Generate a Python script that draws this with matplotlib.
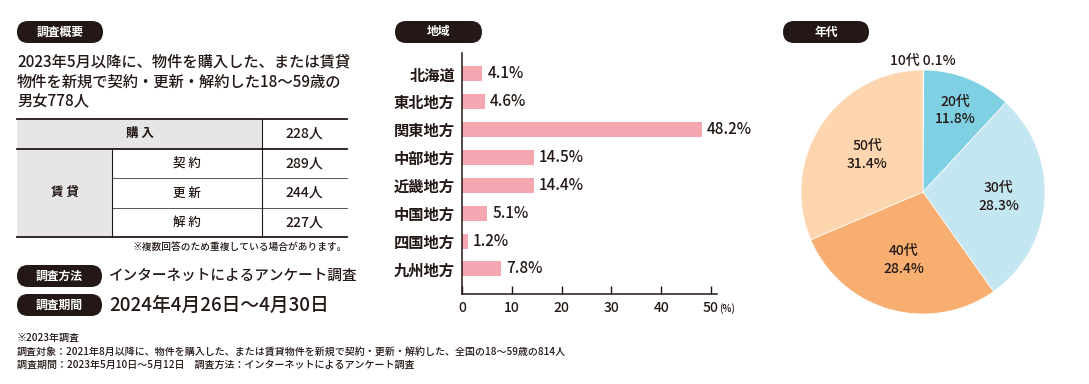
import numpy as np
import matplotlib
matplotlib.use("Agg")
import matplotlib.pyplot as plt
from matplotlib.patches import FancyBboxPatch, Rectangle

plt.rcParams['font.family'] = ['Noto Sans CJK JP', 'DejaVu Sans']
plt.rcParams['font.weight'] = 'medium'

# データ
overview_text = ["2023年5月以降に、物件を購入した、または賃貸",
                 "物件を新規で契約・更新・解約した18～59歳の",
                 "男女778人"]
table_labels = ["契 約", "更 新", "解 約"]
table_counts = ["289人", "244人", "227人"]
purchase_count = "228人"
method_text = "インターネットによるアンケート調査"
period_text = "2024年4月26日～4月30日"
footnotes = ["※2023年調査",
             "調査対象：2021年8月以降に、物件を購入した、または賃貸物件を新規で契約・更新・解約した、全国の18～59歳の814人",
             "調査期間：2023年5月10日～5月12日　調査方法：インターネットによるアンケート調査"]

regions = ["北海道", "東北地方", "関東地方", "中部地方", "近畿地方", "中国地方", "四国地方", "九州地方"]
region_pct = [4.1, 4.6, 48.2, 14.5, 14.4, 5.1, 1.2, 7.8]

ages = ["10代", "20代", "30代", "40代", "50代"]
age_pct = [0.1, 11.8, 28.3, 28.4, 31.4]
age_colors = ["#F4A7B1", "#7FD0E3", "#C3E6F1", "#F8AE70", "#FDD5AE"]

DARK = "#231815"
W, H = 1089, 384

fig = plt.figure(figsize=(W / 100, H / 100), dpi=100)
bg = fig.add_axes([0, 0, 1, 1])
bg.set_xlim(0, W)
bg.set_ylim(H, 0)
bg.axis('off')


def pill(x0, x1, y0, y1, label):
    h = y1 - y0
    p = FancyBboxPatch((x0, y0), x1 - x0, h,
                       boxstyle=f"round,pad=0,rounding_size={h / 2}",
                       fc=DARK, ec='none')
    bg.add_patch(p)
    bg.text((x0 + x1) / 2, (y0 + y1) / 2, label, color='white', fontsize=8.5,
            fontweight='bold', ha='center', va='center')


# 左パネル
pill(17, 103, 21, 43, "調査概要")
for i, line in enumerate(overview_text):
    bg.text(17, 62 + i * 20, line, fontsize=11, color=DARK, va='center')

tx0, tx1, tx2, tx3 = 17, 112, 262, 347
rows = [119, 148.5, 178, 208, 237]
bg.add_patch(Rectangle((tx0, rows[0]), tx2 - tx0, rows[1] - rows[0], fc="#E6E6E7", ec='none'))
bg.add_patch(Rectangle((tx0, rows[1]), tx1 - tx0, rows[4] - rows[1], fc="#E6E6E7", ec='none'))
for y, lw, c, xs in [(rows[0], 1.3, DARK, tx0), (rows[1], 1.3, DARK, tx0),
                     (rows[2], 0.7, "#555555", tx1), (rows[3], 0.7, "#555555", tx1),
                     (rows[4], 1.3, DARK, tx0)]:
    bg.plot([xs, tx3], [y, y], color=c, lw=lw)
bg.plot([tx2, tx2], [rows[0], rows[4]], color=DARK, lw=0.8)
bg.plot([tx1, tx1], [rows[1], rows[4]], color=DARK, lw=0.8)
bg.text((tx0 + tx2) / 2, (rows[0] + rows[1]) / 2, "購 入", fontsize=9,
        fontweight='bold', ha='center', va='center', color=DARK)
bg.text((tx2 + tx3) / 2, (rows[0] + rows[1]) / 2, purchase_count, fontsize=10,
        ha='center', va='center', color=DARK)
bg.text((tx0 + tx1) / 2, (rows[1] + rows[4]) / 2, "賃 貸", fontsize=9,
        fontweight='bold', ha='center', va='center', color=DARK)
for i, (lab, cnt) in enumerate(zip(table_labels, table_counts)):
    yc = (rows[i + 1] + rows[i + 2]) / 2
    bg.text((tx1 + tx2) / 2, yc, lab, fontsize=9, ha='center', va='center', color=DARK)
    bg.text((tx2 + tx3) / 2, yc, cnt, fontsize=10, ha='center', va='center', color=DARK)
bg.text(tx3, 246.5, "※複数回答のため重複している場合があります。", fontsize=7,
        ha='right', va='center', color=DARK)

pill(17, 102, 265, 287, "調査方法")
bg.text(109, 276, method_text, fontsize=10.5, va='center', color=DARK)
pill(17, 102, 294, 316, "調査期間")
bg.text(109, 305, period_text, fontsize=13.5, va='center', color=DARK)
for i, line in enumerate(footnotes):
    bg.text(17, 338 + i * 13.5, line, fontsize=7.2, va='center', color=DARK)

# 地域（棒グラフ）
pill(395, 482, 21, 43, "地域")
ax = fig.add_axes([462 / W, (H - 294) / H, 255 / W, 241 / H])
ypos = np.arange(len(regions))
ax.barh(ypos, region_pct, height=0.54, color="#F4A7B1")
ax.set_xlim(0, 51.2)
ax.set_ylim(7.9, -0.75)
ax.set_yticks(ypos)
ax.set_yticklabels(regions, fontsize=11, fontweight='bold', color=DARK)
ax.tick_params(axis='y', length=0, pad=5)
ax.set_xticks([0, 10, 20, 30, 40, 50])
ax.tick_params(axis='x', direction='in', length=6, width=1, color=DARK,
               labelsize=10, labelcolor=DARK, pad=5)
for s in ['top', 'right']:
    ax.spines[s].set_visible(False)
for s in ['left', 'bottom']:
    ax.spines[s].set_color(DARK)
    ax.spines[s].set_linewidth(1.1)
for y, v in zip(ypos, region_pct):
    ax.text(v + 1.0, y, f"{v}%", fontsize=11, va='center', ha='left', color=DARK)
bg.text(719, 309, "(%)", fontsize=7, va='center', ha='left', color=DARK)

# 年代（円グラフ）
pill(783, 869, 21, 43, "年代")
r = 122
cx, cy = 923, 192
pax = fig.add_axes([(cx - r) / W, (H - cy - r) / H, 2 * r / W, 2 * r / H])
wedges, _ = pax.pie(age_pct, colors=age_colors, startangle=90, counterclock=False,
                    radius=1, wedgeprops=dict(ec='white', lw=0.5))
pax.set_xlim(-1, 1)
pax.set_ylim(-1, 1)
pax.set_aspect('equal')
label_r = [None, 0.72, 0.62, 0.58, 0.55]
for w, name, v, lr in zip(wedges, ages, age_pct, label_r):
    ang = np.deg2rad((w.theta1 + w.theta2) / 2)
    if lr is None:
        pax.text(0, 1.07, f"{name} {v}%", fontsize=10, ha='center', va='center',
                 color=DARK, clip_on=False)
    else:
        pax.text(lr * np.cos(ang), lr * np.sin(ang), f"{name}\n{v}%", fontsize=10,
                 ha='center', va='center', color=DARK, linespacing=1.3)

fig.savefig("out.png", dpi=100)
